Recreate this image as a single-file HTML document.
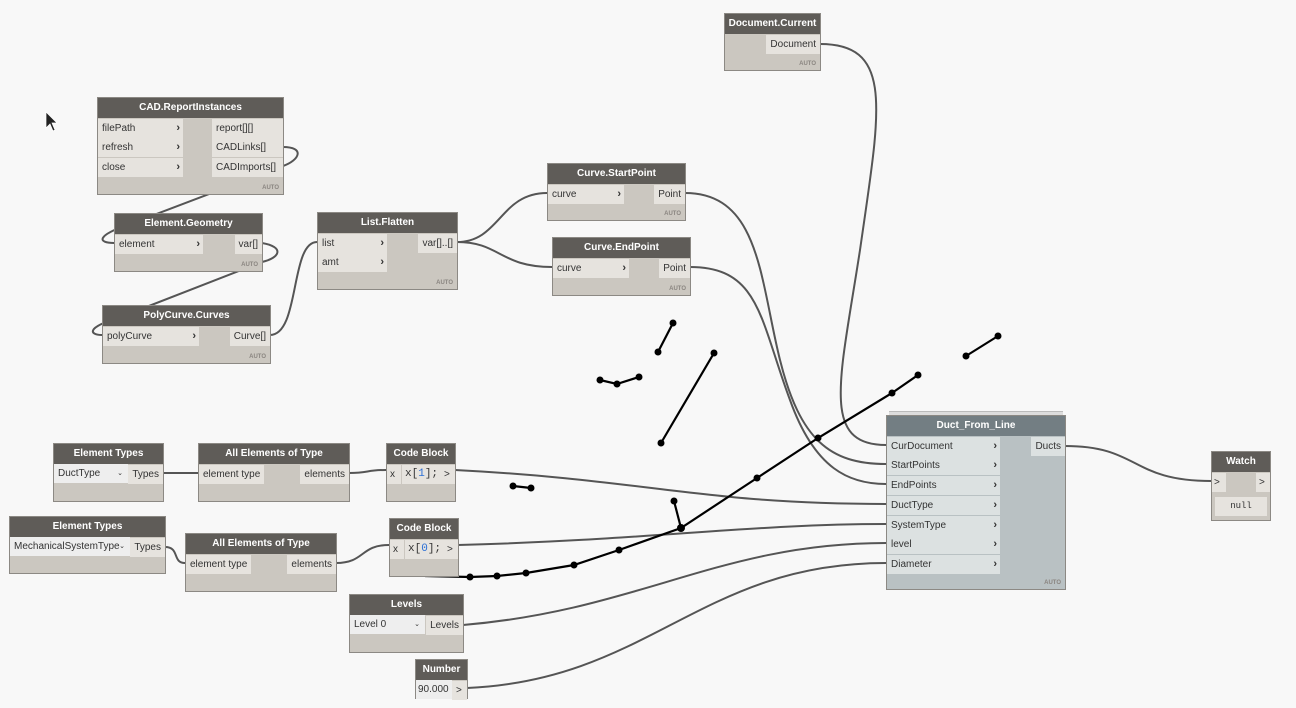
<!DOCTYPE html>
<html><head><meta charset="utf-8"><style>
body{margin:0;width:1296px;height:708px;background:#f8f8f8;position:relative;overflow:hidden;font-family:"Liberation Sans",sans-serif;font-size:10px;color:#333}
.n{position:absolute;background:#cbc7c0;border:1px solid #8c8984;box-sizing:border-box}
.h{position:absolute;left:0;right:0;top:0;height:20px;line-height:20px;background:#5f5c58;color:#fff;font-weight:bold;text-align:center;font-size:10px}
.p{position:absolute;background:#e6e3de;height:19px;line-height:19px;padding:0 4px;box-sizing:border-box;white-space:nowrap}
.a{position:absolute;right:3px;font-weight:bold;font-size:11px}
.auto{position:absolute;right:4px;bottom:3px;font-size:6px;font-weight:bold;color:#8a8580}
svg{position:absolute;left:0;top:0}
.mono{font-family:"Liberation Mono",monospace}
</style></head><body>
<svg width="1296" height="708">
<g fill="none" stroke="#555" stroke-width="2">
<path d="M820 44 C895 44 880 110 860 250 C840 380 820 445 886 445"/>
<path d="M283 147 C305 147 300 160 283 166 L130 224 C95 236 98 243 114 243"/>
<path d="M262 243 C285 247 280 258 262 262 L118 318 C85 328 90 335 102 335"/>
<path d="M270 335 C300 335 290 242 317 242"/>
<path d="M457 242 C500 242 500 193 547 193"/>
<path d="M457 242 C500 242 500 267 552 267"/>
<path d="M685 193 C760 193 760 280 780 360 C800 440 830 464 886 464"/>
<path d="M690 267 C760 267 760 320 790 400 C815 470 850 484 886 484"/>
<path d="M455 470 C650 480 700 504 886 504"/>
<path d="M458 545 C650 540 750 524 886 524"/>
<path d="M463 625 C640 610 720 543 886 543"/>
<path d="M467 688 C650 680 700 563 886 563"/>
<path d="M1065 446 C1140 446 1130 481 1211 481"/>
<path d="M163 473 L198 473"/>
<path d="M349 473 C370 473 365 470 386 470"/>
<path d="M165 547 C180 547 172 563 185 563"/>
<path d="M336 563 C365 563 360 545 389 545"/>
</g>
<g fill="none" stroke="#000" stroke-width="2.2">
<path d="M673 323 L658 352"/>
<path d="M600 380 L617 384 L639 377"/>
<path d="M714 353 L661 443"/>
<path d="M513 486 L531 488"/>
<path d="M674 501 L681 528"/>
<path d="M966 356 L998 336"/>
<path d="M425 576 L470 577 L497 576 L526 573 L574 565 L619 550 L681 528 L757 478 L818 438 L892 393 L918 375"/>
</g>
<g fill="#000">
<circle cx="673" cy="323" r="3.5"/><circle cx="658" cy="352" r="3.5"/>
<circle cx="600" cy="380" r="3.5"/><circle cx="617" cy="384" r="3.5"/><circle cx="639" cy="377" r="3.5"/>
<circle cx="714" cy="353" r="3.5"/><circle cx="661" cy="443" r="3.5"/>
<circle cx="513" cy="486" r="3.5"/><circle cx="531" cy="488" r="3.5"/>
<circle cx="674" cy="501" r="3.5"/><circle cx="681" cy="528" r="4"/>
<circle cx="966" cy="356" r="3.5"/><circle cx="998" cy="336" r="3.5"/>
<circle cx="470" cy="577" r="3.5"/><circle cx="497" cy="576" r="3.5"/><circle cx="526" cy="573" r="3.5"/><circle cx="574" cy="565" r="3.5"/><circle cx="619" cy="550" r="3.5"/><circle cx="757" cy="478" r="3.5"/><circle cx="818" cy="438" r="3.5"/><circle cx="892" cy="393" r="3.5"/><circle cx="918" cy="375" r="3.5"/>
</g>
<path d="M46 112 L46 128 L50 124 L53 131 L55 130 L52 123 L57 123 Z" fill="#222" stroke="#fff" stroke-width=".7"/>
</svg>

<div class="n" style="left:724px;top:13px;width:97px;height:58px"><div class="h">Document.Current</div><div class="p" style="right:0;top:21px">Document</div><div class="auto">AUTO</div></div>

<div class="n" style="left:97px;top:97px;width:187px;height:98px"><div class="h">CAD.ReportInstances</div>
<div class="p" style="left:0;top:21px;width:85px">filePath<span class="a">›</span></div>
<div class="p" style="left:0;top:40px;width:85px">refresh<span class="a">›</span></div>
<div class="p" style="left:0;top:60px;width:85px">close<span class="a">›</span></div>
<div class="p" style="right:0;top:21px;width:71px">report[][]</div>
<div class="p" style="right:0;top:40px;width:71px">CADLinks[]</div>
<div class="p" style="right:0;top:60px;width:71px">CADImports[]</div><div class="auto">AUTO</div></div>

<div class="n" style="left:114px;top:213px;width:149px;height:59px"><div class="h">Element.Geometry</div>
<div class="p" style="left:0;top:21px;width:88px">element<span class="a">›</span></div>
<div class="p" style="right:0;top:21px">var[]</div><div class="auto">AUTO</div></div>

<div class="n" style="left:102px;top:305px;width:169px;height:59px"><div class="h">PolyCurve.Curves</div>
<div class="p" style="left:0;top:21px;width:96px">polyCurve<span class="a">›</span></div>
<div class="p" style="right:0;top:21px">Curve[]</div><div class="auto">AUTO</div></div>

<div class="n" style="left:317px;top:212px;width:141px;height:78px"><div class="h">List.Flatten</div>
<div class="p" style="left:0;top:21px;width:69px">list<span class="a">›</span></div>
<div class="p" style="left:0;top:40px;width:69px">amt<span class="a">›</span></div>
<div class="p" style="right:0;top:21px">var[]..[]</div><div class="auto">AUTO</div></div>

<div class="n" style="left:547px;top:163px;width:139px;height:58px"><div class="h">Curve.StartPoint</div>
<div class="p" style="left:0;top:21px;width:76px">curve<span class="a">›</span></div>
<div class="p" style="right:0;top:21px">Point</div><div class="auto">AUTO</div></div>

<div class="n" style="left:552px;top:237px;width:139px;height:59px"><div class="h">Curve.EndPoint</div>
<div class="p" style="left:0;top:21px;width:76px">curve<span class="a">›</span></div>
<div class="p" style="right:0;top:21px">Point</div><div class="auto">AUTO</div></div>

<div style="position:absolute;left:889px;top:411px;width:174px;height:4px;background:#ddd;border-top:1px solid #bbb"></div>
<div class="n" style="left:886px;top:415px;width:180px;height:175px;background:#b9c1c3"><div class="h" style="background:#737e83">Duct_From_Line</div>
<div class="p" style="left:0;top:21px;width:113px;background:#dce1e1">CurDocument<span class="a">›</span></div>
<div class="p" style="left:0;top:40px;width:113px;background:#dce1e1">StartPoints<span class="a">›</span></div>
<div class="p" style="left:0;top:60px;width:113px;background:#dce1e1">EndPoints<span class="a">›</span></div>
<div class="p" style="left:0;top:80px;width:113px;background:#dce1e1">DuctType<span class="a">›</span></div>
<div class="p" style="left:0;top:100px;width:113px;background:#dce1e1">SystemType<span class="a">›</span></div>
<div class="p" style="left:0;top:119px;width:113px;background:#dce1e1">level<span class="a">›</span></div>
<div class="p" style="left:0;top:139px;width:113px;background:#dce1e1">Diameter<span class="a">›</span></div>
<div class="p" style="right:0;top:21px;background:#dce1e1">Ducts</div><div class="auto">AUTO</div></div>

<div class="n" style="left:1211px;top:451px;width:60px;height:70px"><div class="h">Watch</div>
<div class="p" style="left:0;top:21px;width:14px;padding:0 2px">&gt;</div>
<div class="p" style="right:0;top:21px;width:14px;padding:0 3px">&gt;</div>
<div class="p mono" style="left:3px;right:3px;top:45px;text-align:center;font-size:9px">null</div></div>

<div class="n" style="left:53px;top:443px;width:111px;height:59px"><div class="h">Element Types</div>
<div class="p" style="left:0;top:20px;width:74px;background:#eee">DuctType<span style="position:absolute;right:5px;font-size:7px">⌄</span></div>
<div class="p" style="right:0;top:21px">Types</div></div>

<div class="n" style="left:198px;top:443px;width:152px;height:59px"><div class="h">All Elements of Type</div>
<div class="p" style="left:0;top:21px">element type</div>
<div class="p" style="right:0;top:21px">elements</div></div>

<div class="n" style="left:386px;top:443px;width:70px;height:59px"><div class="h">Code Block</div>
<div class="p" style="left:0;top:21px;width:14px;padding:0 3px">x</div>
<div class="p mono" style="left:15px;top:21px;width:38px;padding:0 3px;font-size:11px">x[<span style="color:#2a6fd6">1</span>];</div>
<div class="p" style="right:0;top:21px;width:15px;padding:0 4px">&gt;</div></div>

<div class="n" style="left:9px;top:516px;width:157px;height:58px"><div class="h">Element Types</div>
<div class="p" style="left:0;top:20px;width:120px;background:#eee">MechanicalSystemType<span style="position:absolute;right:5px;font-size:7px">⌄</span></div>
<div class="p" style="right:0;top:21px">Types</div></div>

<div class="n" style="left:185px;top:533px;width:152px;height:59px"><div class="h">All Elements of Type</div>
<div class="p" style="left:0;top:21px">element type</div>
<div class="p" style="right:0;top:21px">elements</div></div>

<div class="n" style="left:389px;top:518px;width:70px;height:59px"><div class="h">Code Block</div>
<div class="p" style="left:0;top:21px;width:14px;padding:0 3px">x</div>
<div class="p mono" style="left:15px;top:21px;width:38px;padding:0 3px;font-size:11px">x[<span style="color:#2a6fd6">0</span>];</div>
<div class="p" style="right:0;top:21px;width:15px;padding:0 4px">&gt;</div></div>

<div class="n" style="left:349px;top:594px;width:115px;height:59px"><div class="h">Levels</div>
<div class="p" style="left:0;top:20px;width:75px;background:#eee">Level 0<span style="position:absolute;right:5px;font-size:7px">⌄</span></div>
<div class="p" style="right:0;top:21px">Levels</div></div>

<div class="n" style="left:415px;top:659px;width:53px;height:40px"><div class="h">Number</div>
<div class="p" style="left:0;top:20px;width:36px;padding:0 2px;background:#eee">90.000</div>
<div class="p" style="right:0;top:21px;width:15px;padding:0 4px">&gt;</div></div>
</body></html>
